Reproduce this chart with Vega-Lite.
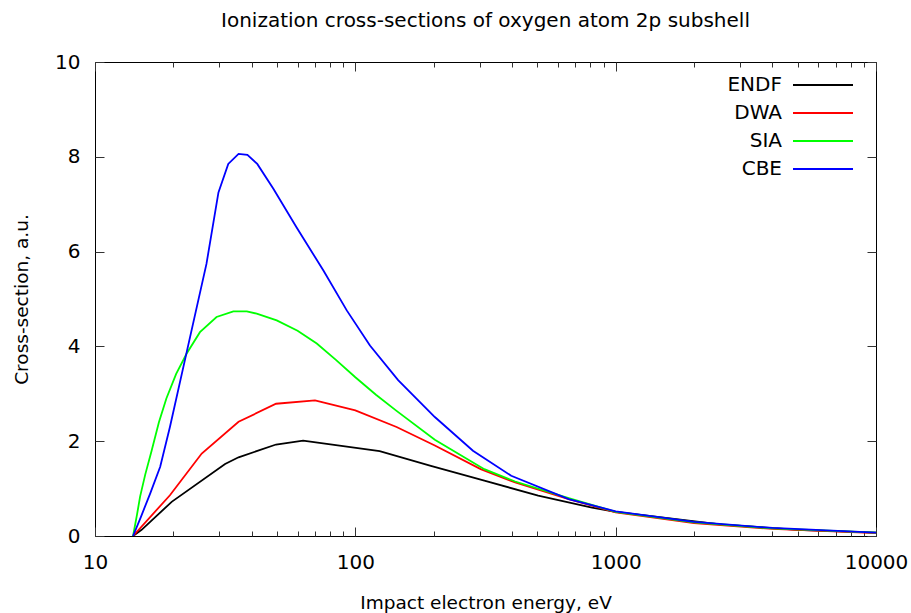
{
"$schema":"https://vega.github.io/schema/vega-lite/v6.json",
"width":781,"height":474,
"autosize":{"type":"none"},
"padding":{"left":95,"top":62,"right":35,"bottom":77},
"config":{"font":"DejaVu Sans","view":{"stroke":"#000","strokeWidth":1},
 "axis":{"grid":false,"domain":false,"labelFont":"DejaVu Sans","titleFont":"DejaVu Sans","labelFontSize":20,"titleFontSize":18.5,"titleFontWeight":"normal","labelColor":"#000","titleColor":"#000","tickColor":"#333","tickWidth":1,"labelFlush":false}},
"title":{"text":"Ionization cross-sections of oxygen atom 2p subshell","font":"DejaVu Sans","fontSize":20,"fontWeight":"normal","color":"#000","anchor":"middle","offset":21},
"data":{"values":[
{"method":"ENDF","energy":14,"sigma":0},
{"method":"ENDF","energy":15.1,"sigma":0.13},
{"method":"ENDF","energy":19.7,"sigma":0.72},
{"method":"ENDF","energy":31.6,"sigma":1.52},
{"method":"ENDF","energy":35.6,"sigma":1.66},
{"method":"ENDF","energy":49.6,"sigma":1.93},
{"method":"ENDF","energy":63,"sigma":2.01},
{"method":"ENDF","energy":124,"sigma":1.79},
{"method":"ENDF","energy":195,"sigma":1.48},
{"method":"ENDF","energy":313,"sigma":1.17},
{"method":"ENDF","energy":504,"sigma":0.85},
{"method":"ENDF","energy":811,"sigma":0.6},
{"method":"ENDF","energy":1000,"sigma":0.51},
{"method":"ENDF","energy":2566,"sigma":0.24},
{"method":"ENDF","energy":5000,"sigma":0.13},
{"method":"ENDF","energy":10000,"sigma":0.07},
{"method":"DWA","energy":14,"sigma":0},
{"method":"DWA","energy":19.4,"sigma":0.86},
{"method":"DWA","energy":25.7,"sigma":1.74},
{"method":"DWA","energy":35.6,"sigma":2.41},
{"method":"DWA","energy":49.6,"sigma":2.79},
{"method":"DWA","energy":70,"sigma":2.86},
{"method":"DWA","energy":100,"sigma":2.65},
{"method":"DWA","energy":144,"sigma":2.3},
{"method":"DWA","energy":202,"sigma":1.91},
{"method":"DWA","energy":303,"sigma":1.41},
{"method":"DWA","energy":411,"sigma":1.13},
{"method":"DWA","energy":660,"sigma":0.78},
{"method":"DWA","energy":1000,"sigma":0.5},
{"method":"DWA","energy":2000,"sigma":0.27},
{"method":"DWA","energy":4000,"sigma":0.15},
{"method":"DWA","energy":10000,"sigma":0.06},
{"method":"SIA","energy":14,"sigma":0},
{"method":"SIA","energy":14.5,"sigma":0.45},
{"method":"SIA","energy":14.9,"sigma":0.83},
{"method":"SIA","energy":15.6,"sigma":1.3},
{"method":"SIA","energy":16.5,"sigma":1.8},
{"method":"SIA","energy":17.6,"sigma":2.4},
{"method":"SIA","energy":18.8,"sigma":2.9},
{"method":"SIA","energy":20.5,"sigma":3.42},
{"method":"SIA","energy":22.5,"sigma":3.85},
{"method":"SIA","energy":25.3,"sigma":4.3},
{"method":"SIA","energy":29.3,"sigma":4.62},
{"method":"SIA","energy":34,"sigma":4.74},
{"method":"SIA","energy":38.3,"sigma":4.74},
{"method":"SIA","energy":41.8,"sigma":4.69},
{"method":"SIA","energy":49.9,"sigma":4.55},
{"method":"SIA","energy":60,"sigma":4.33},
{"method":"SIA","energy":71.1,"sigma":4.06},
{"method":"SIA","energy":84,"sigma":3.72},
{"method":"SIA","energy":100,"sigma":3.35},
{"method":"SIA","energy":120,"sigma":2.98},
{"method":"SIA","energy":144,"sigma":2.64},
{"method":"SIA","energy":202,"sigma":2.03},
{"method":"SIA","energy":313,"sigma":1.41},
{"method":"SIA","energy":411,"sigma":1.15},
{"method":"SIA","energy":660,"sigma":0.8},
{"method":"SIA","energy":1000,"sigma":0.51},
{"method":"SIA","energy":2000,"sigma":0.29},
{"method":"SIA","energy":4000,"sigma":0.16},
{"method":"SIA","energy":10000,"sigma":0.07},
{"method":"CBE","energy":14,"sigma":0},
{"method":"CBE","energy":15,"sigma":0.4},
{"method":"CBE","energy":16.3,"sigma":0.9},
{"method":"CBE","energy":17.8,"sigma":1.46},
{"method":"CBE","energy":19.4,"sigma":2.3},
{"method":"CBE","energy":22.5,"sigma":3.88},
{"method":"CBE","energy":26.8,"sigma":5.74},
{"method":"CBE","energy":29.8,"sigma":7.25},
{"method":"CBE","energy":32.5,"sigma":7.85},
{"method":"CBE","energy":35.6,"sigma":8.06},
{"method":"CBE","energy":38.5,"sigma":8.04},
{"method":"CBE","energy":42,"sigma":7.85},
{"method":"CBE","energy":48.5,"sigma":7.32},
{"method":"CBE","energy":59.5,"sigma":6.51},
{"method":"CBE","energy":75.4,"sigma":5.6},
{"method":"CBE","energy":92.7,"sigma":4.76},
{"method":"CBE","energy":113.8,"sigma":4.02},
{"method":"CBE","energy":146,"sigma":3.29},
{"method":"CBE","energy":202,"sigma":2.51},
{"method":"CBE","energy":283,"sigma":1.8},
{"method":"CBE","energy":397,"sigma":1.27},
{"method":"CBE","energy":660,"sigma":0.78},
{"method":"CBE","energy":1000,"sigma":0.52},
{"method":"CBE","energy":2000,"sigma":0.3},
{"method":"CBE","energy":4000,"sigma":0.17},
{"method":"CBE","energy":10000,"sigma":0.07}
]},
"layer":[
 {"mark":{"type":"line","strokeWidth":1.8,"clip":true},
  "encoding":{
   "x":{"field":"energy","type":"quantitative","scale":{"type":"log","domain":[10,10000],"nice":false},
        "axis":{"orient":"bottom","values":[10,100,1000,10000],"format":"d","tickSize":-9,"labelPadding":25,"title":"Impact electron energy, eV","titlePadding":21}},
   "y":{"field":"sigma","type":"quantitative","scale":{"domain":[0,10],"nice":false},
        "axis":{"orient":"left","values":[0,2,4,6,8,10],"tickSize":-9,"labelPadding":24,"title":"Cross-section, a.u.","titlePadding":23}},
   "color":{"field":"method","type":"nominal","scale":{"domain":["ENDF","DWA","SIA","CBE"],"range":["#000000","#ff0000","#00ff00","#0000ff"]},
        "legend":{"orient":"none","legendX":717,"legendY":12,"title":null,"padding":0,"symbolType":"M-3,0H3","symbolSize":400,"symbolStrokeWidth":2,"symbolFillColor":"transparent","labelAlign":"right","labelOffset":-52,"labelFontSize":20,"labelFont":"DejaVu Sans","labelColor":"#000","rowPadding":7}}
  }},
 {"mark":{"type":"line","opacity":0},
  "encoding":{
   "x":{"field":"energy","type":"quantitative","scale":{"type":"log","domain":[10,10000],"nice":false},
        "axis":{"orient":"bottom","values":[20,30,40,50,60,70,80,90,200,300,400,500,600,700,800,900,2000,3000,4000,5000,6000,7000,8000,9000],"labels":false,"tickSize":-5,"title":null}},
   "y":{"field":"sigma","type":"quantitative","scale":{"domain":[0,10],"nice":false},
        "axis":{"orient":"right","values":[0,2,4,6,8,10],"labels":false,"tickSize":-9,"title":null}}
  }},
 {"mark":{"type":"line","opacity":0},
  "encoding":{
   "x":{"field":"energy","type":"quantitative","scale":{"type":"log","domain":[10,10000],"nice":false},
        "axis":{"orient":"top","values":[10,100,1000,10000],"labels":false,"tickSize":-9,"title":null}},
   "y":{"field":"sigma","type":"quantitative","scale":{"domain":[0,10],"nice":false},"axis":null}
  }},
 {"mark":{"type":"line","opacity":0},
  "encoding":{
   "x":{"field":"energy","type":"quantitative","scale":{"type":"log","domain":[10,10000],"nice":false},
        "axis":{"orient":"top","values":[20,30,40,50,60,70,80,90,200,300,400,500,600,700,800,900,2000,3000,4000,5000,6000,7000,8000,9000],"labels":false,"tickSize":-5,"title":null}},
   "y":{"field":"sigma","type":"quantitative","scale":{"domain":[0,10],"nice":false},"axis":null}
  }}
],
"resolve":{"axis":{"x":"independent","y":"independent"}}
}
